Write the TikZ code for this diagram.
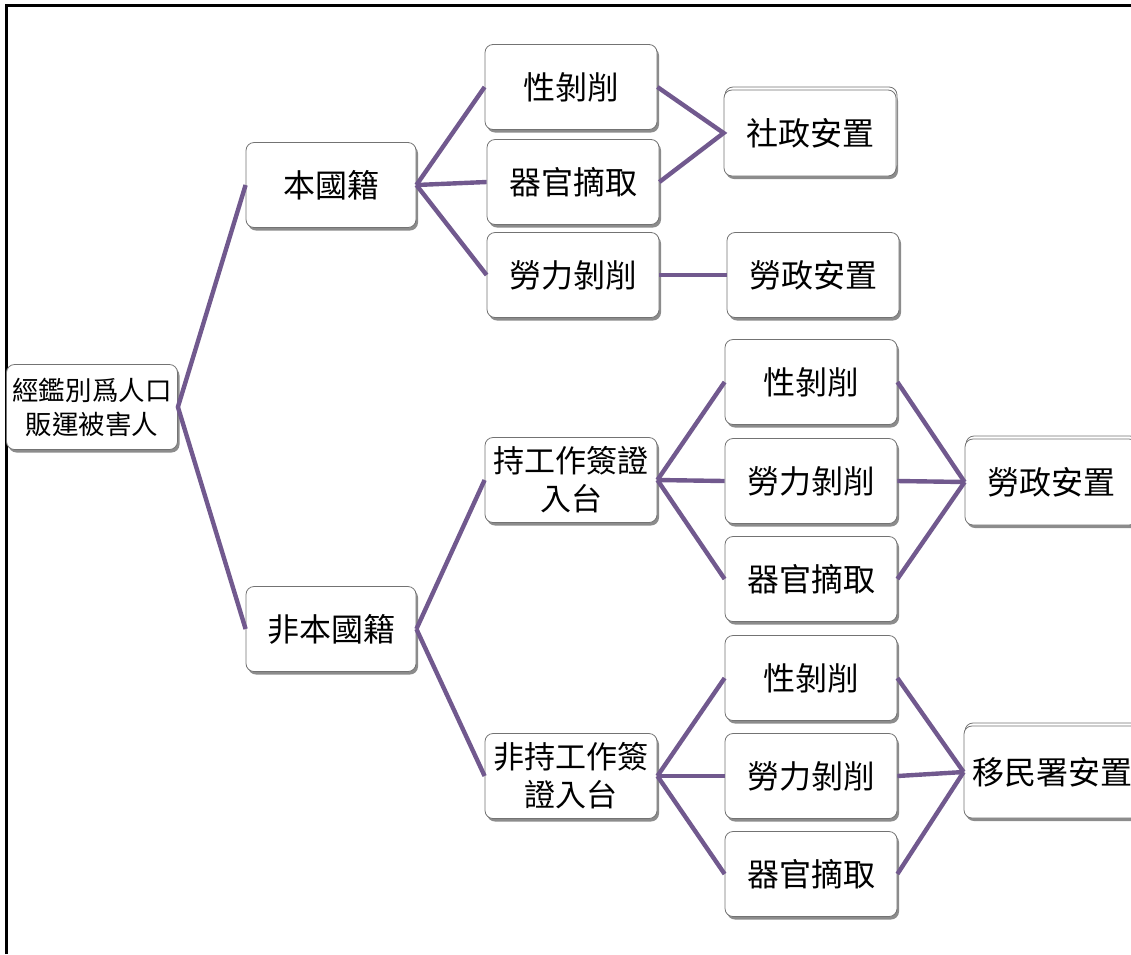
\documentclass[tikz,border=0pt]{standalone}
\usepackage{fontspec}
\newfontfamily\cjk{Noto Sans CJK TC}
\usetikzlibrary{shadows,positioning}

\begin{document}
\begin{tikzpicture}[x=1pt,y=-1pt,
		box/.style={draw=black!55,line width=0.8pt,rounded corners=8pt,fill=white,
			minimum width=172pt,minimum height=85pt,align=center,inner sep=2pt,
			font=\cjk\fontsize{32}{38}\selectfont,
			drop shadow={shadow xshift=2pt,shadow yshift=-3pt,opacity=0.6,fill=black!75}},
		stackbox/.style={box,copy shadow={shadow xshift=1pt,shadow yshift=3pt,draw=black!55,fill=white}},
		link/.style={line width=4.4pt,draw={rgb,255:red,113;green,89;blue,142}}]
		\useasboundingbox (0,0) rectangle (1131,954);
		\clip (0,0) rectangle (1131,954);
		% frame
		\draw[line width=3pt] (6,954) |- (1131,5);
		% nodes
		\node[box,minimum width=171pt,font=\cjk\fontsize{26.5}{34}\selectfont] (root) at (92,407) {經鑑別爲人口\\販運被害人};
		\node[box,minimum width=170pt] (nat) at (331,185) {本國籍};
		\node[box,minimum width=170pt] (fgn) at (331,629) {非本國籍};
		\node[box] (n-sex) at (571,87) {性剝削};
		\node[box] (n-org) at (573,182) {器官摘取};
		\node[box] (n-lab) at (573,275) {勞力剝削};
		\node[stackbox,minimum height=86pt] (social) at (810,133) {社政安置};
		\node[box] (labor1) at (813,275) {勞政安置};
		\node[box,font=\cjk\fontsize{31}{38}\selectfont] (visa) at (571,480) {持工作簽證\\入台};
		\node[box] (v-sex) at (811,382) {性剝削};
		\node[box] (v-lab) at (811,481) {勞力剝削};
		\node[box] (v-org) at (811,579) {器官摘取};
		\node[stackbox,minimum height=86pt] (labor2) at (1051,482) {勞政安置};
		\node[box,font=\cjk\fontsize{31}{38}\selectfont] (novisa) at (571,776) {非持工作簽\\證入台};
		\node[box] (x-sex) at (811,678) {性剝削};
		\node[box] (x-lab) at (811,776) {勞力剝削};
		\node[box] (x-org) at (811,874) {器官摘取};
		\node[stackbox,minimum height=92pt,minimum width=176pt] (immig) at (1052,772) {移民署安置};
		% connectors
		\draw[link] (nat.west) -- (root.east) -- (fgn.west);
		\foreach \c in {n-sex,n-org,n-lab} \draw[link] (nat.east) -- (\c.west);
		\foreach \c in {visa,novisa} \draw[link] (fgn.east) -- (\c.west);
		\draw[link] (n-sex.east) -- (social.west) -- (n-org.east);
		\draw[link] (n-lab.east) -- (labor1.west);
		\foreach \c in {v-sex,v-lab,v-org} {
			\draw[link] (visa.east) -- (\c.west);
			\draw[link] (\c.east) -- (labor2.west);
		}
		\foreach \c in {x-sex,x-lab,x-org} {
			\draw[link] (novisa.east) -- (\c.west);
			\draw[link] (\c.east) -- (immig.west);
		}
	\end{tikzpicture}
\end{document}
